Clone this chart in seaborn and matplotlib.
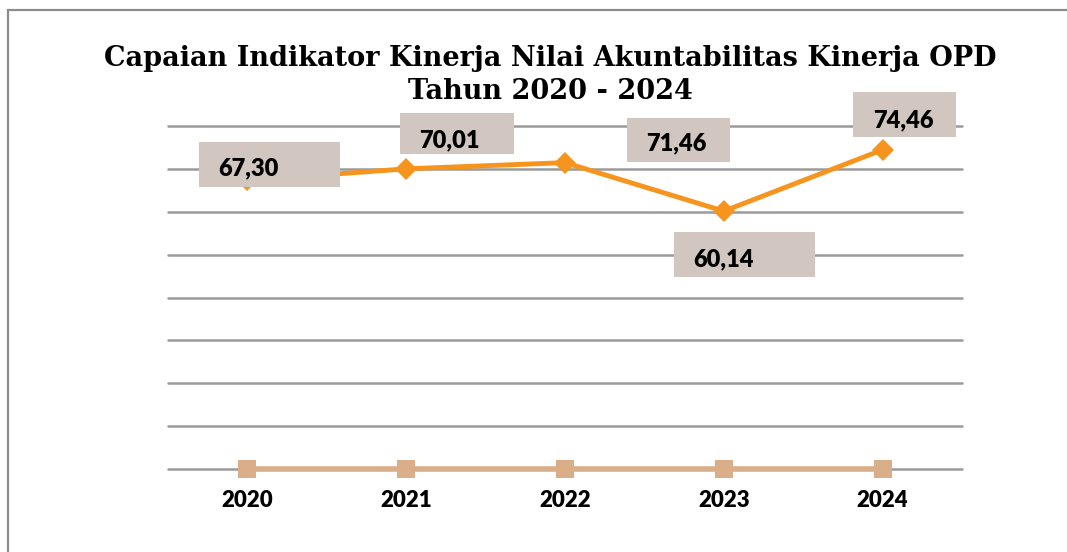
import pandas as pd
import matplotlib.pyplot as plt
import matplotlib.transforms as mtransforms
from matplotlib.patches import Rectangle
import seaborn as sns

# data
tahun = ['2020', '2021', '2022', '2023', '2024']
nilai_akip = [67.30, 70.01, 71.46, 60.14, 74.46]
seri_dasar = [0, 0, 0, 0, 0]
label_nilai = ['67,30', '70,01', '71,46', '60,14', '74,46']

judul = 'Capaian Indikator Kinerja Nilai Akuntabilitas Kinerja OPD\nTahun 2020 - 2024'

# label box placement, in pixels relative to each point: (box x, box y, w, h, text dx, text dy)
label_pos = [
    (-48, -7, 141, 45, 1, 12),
    (-6, 15, 114, 41, 43, 29),
    (62, 1, 103, 44, 111, 19),
    (-50, -66, 141, 45, 0, -48),
    (-30, 13, 103, 45, 21, 29),
]

sns.set_theme(style='white')
plt.rcParams['font.family'] = ['Lato', 'DejaVu Sans']
plt.rcParams['text.color'] = 'black'
plt.rcParams['xtick.color'] = 'black'

df = pd.DataFrame({'tahun': tahun, 'nilai': nilai_akip, 'dasar': seri_dasar})

fig = plt.figure(figsize=(10.67, 5.52), dpi=100)
ax = fig.add_axes([168 / 1067, 1 - 469 / 552, 794 / 1067, 343 / 552])

# outer frame of the chart area
fig.patches.append(Rectangle((8 / 1067, -0.1), 1.2, 1 - 10 / 552 + 0.1, transform=fig.transFigure,
                             fill=False, edgecolor='#8c8c8c', linewidth=1.6))

sns.lineplot(data=df, x='tahun', y='dasar', ax=ax, color='#dbae8a', linewidth=4,
             marker='s', markersize=13, markeredgewidth=0, zorder=3, sort=False)
sns.lineplot(data=df, x='tahun', y='nilai', ax=ax, color='#f7941d', linewidth=3.5,
             marker='D', markersize=11, markeredgewidth=0, zorder=4, sort=False)
for ln in ax.lines:
    ln.set_clip_on(False)

ax.set_xlim(-0.5, 4.5)
ax.set_ylim(0, 80)
ax.set_yticks(range(0, 81, 10))
ax.set_yticklabels([])
ax.yaxis.grid(True, color='#9a9a9a', linewidth=1.8)
for gl in ax.yaxis.get_gridlines():
    gl.set_clip_on(False)
ax.set_axisbelow(True)
for s in ax.spines.values():
    s.set_visible(False)
ax.set_xlabel('')
ax.set_ylabel('')
ax.tick_params(axis='both', length=0)
ax.set_xticks(range(len(tahun)))
ax.set_xticklabels(tahun, fontsize=16, fontweight='heavy', color='black')
ax.tick_params(axis='x', pad=15)

for i, (v, lab) in enumerate(zip(nilai_akip, label_nilai)):
    bx, by, bw, bh, tx, ty = label_pos[i]
    tr = mtransforms.ScaledTranslation(i, v, ax.transData)
    ax.add_patch(Rectangle((bx, by), bw, bh, transform=tr, facecolor='#d1c6c0',
                           edgecolor='none', zorder=5, clip_on=False))
    ax.annotate(lab, xy=(i, v), xytext=(tx, ty), textcoords='offset pixels',
                ha='center', va='center', fontsize=17, fontweight='heavy',
                color='black', zorder=6)

fig.text(550 / 1067, 1 - 75 / 552, judul, ha='center', va='center', fontsize=19.5,
         fontweight='heavy', family=['DejaVu Serif'], linespacing=1.3, color='black')

fig.savefig('out.png', dpi=100, facecolor='white')
